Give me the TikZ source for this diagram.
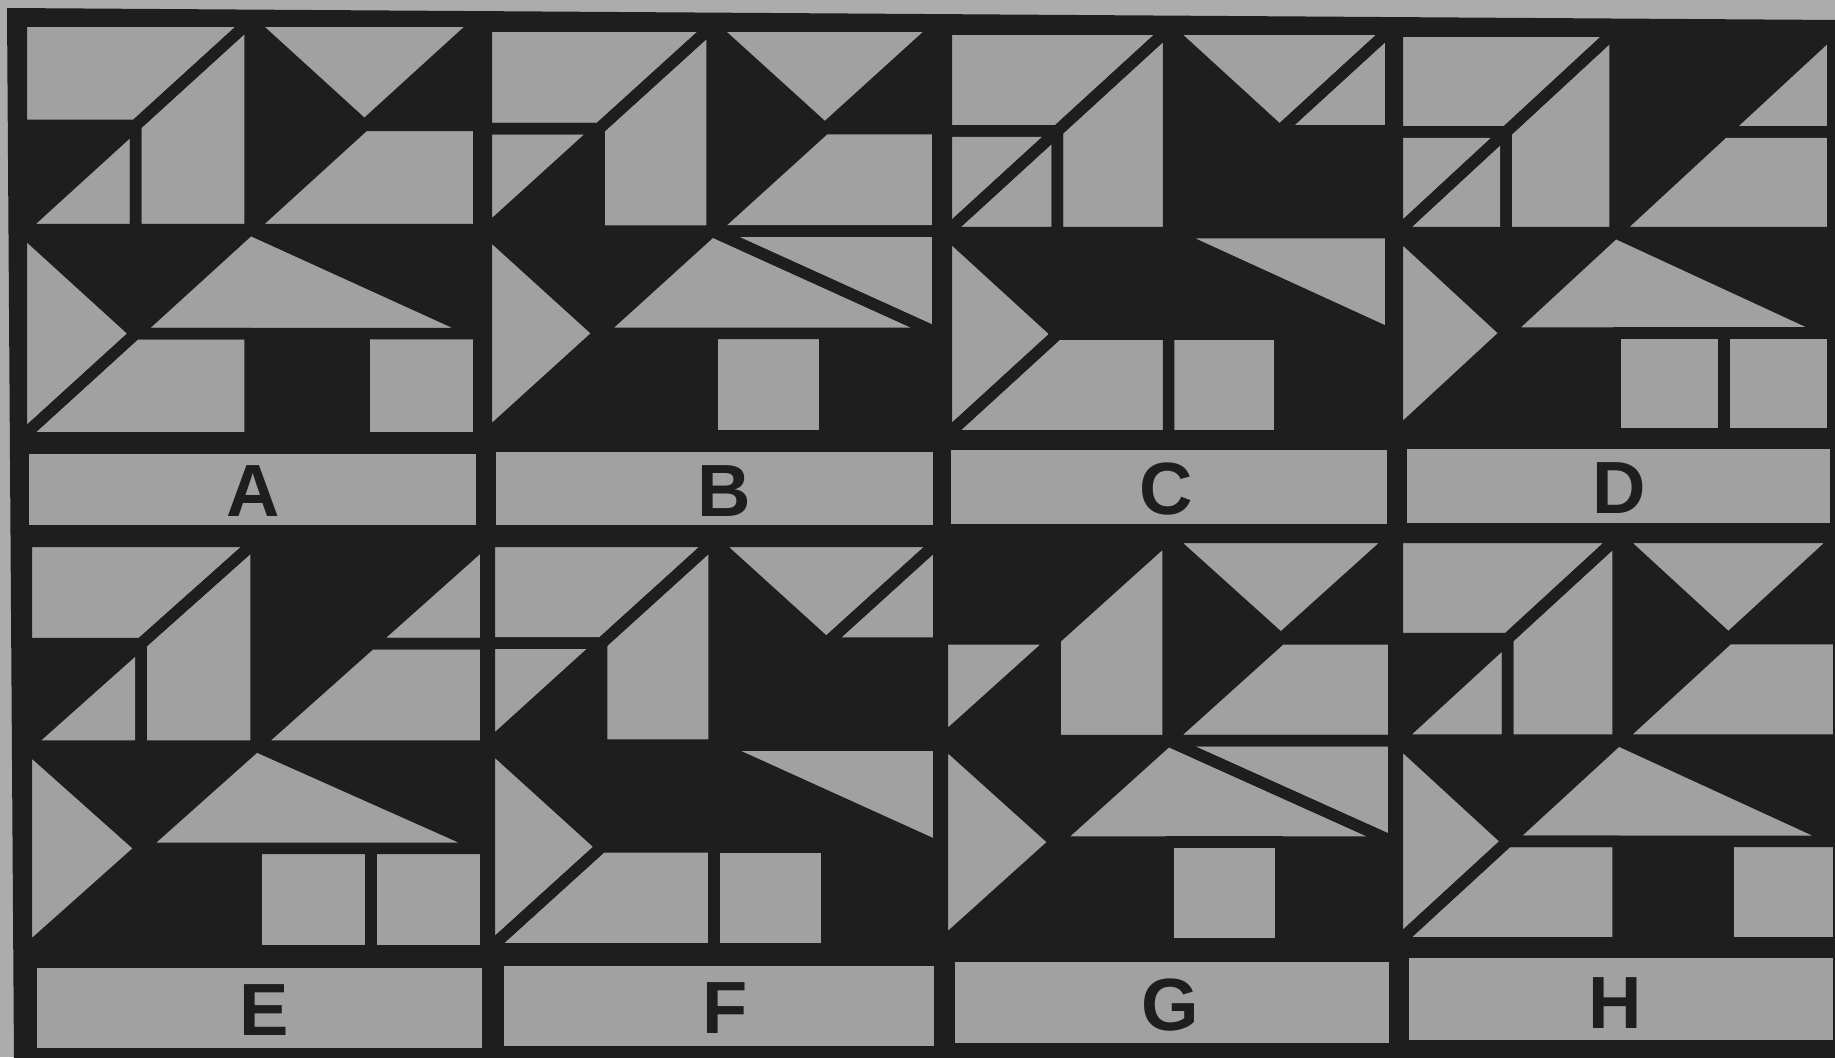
\documentclass[tikz,border=0pt]{standalone}
\usepackage{fontspec}
\setmainfont{Liberation Sans}
\definecolor{pg}{RGB}{161,161,161}
\definecolor{ink}{RGB}{30,30,30}
\definecolor{bgg}{RGB}{172,172,172}
\tikzset{
  gfill/.style={fill=pg},
  gline/.style={draw=ink, line width=11.5pt, line join=round},
  strip/.style={fill=pg},
  lbl/.style={inner sep=0pt, text=ink, font=\fontsize{74}{78}\selectfont\bfseries}
}
% grid of one panel: #1..#4 = inner grey bounds (x0,y0,x1,y1)
\newcommand\mkgrid[4]{%
  \pgfmathsetmacro\Xa{#1-5.75}\pgfmathsetmacro\Xb{#3+5.75}%
  \pgfmathsetmacro\Ya{#2-5.75}\pgfmathsetmacro\Yb{#4+5.75}%
  \foreach \i in {0,...,4}{\foreach \j in {0,...,4}{%
    \coordinate (g\i\j) at ({\Xa+\i*(\Xb-\Xa)/4},{\Ya+\j*(\Yb-\Ya)/4});}}%
}
\newcommand\regshape[2]{%
  \ifcase#2\or
    \path[#1] (g00)--(g20)--(g11)--(g01)--cycle;\or
    \path[#1] (g01)--(g11)--(g02)--cycle;\or
    \path[#1] (g11)--(g12)--(g02)--cycle;\or
    \path[#1] (g11)--(g20)--(g22)--(g12)--cycle;\or
    \path[#1] (g20)--(g31)--(g22)--cycle;\or
    \path[#1] (g20)--(g40)--(g31)--cycle;\or
    \path[#1] (g40)--(g41)--(g31)--cycle;\or
    \path[#1] (g31)--(g41)--(g42)--(g22)--cycle;\or
    \path[#1] (g02)--(g22)--(g13)--cycle;\or
    \path[#1] (g02)--(g13)--(g04)--cycle;\or
    \path[#1] (g13)--(g23)--(g24)--(g04)--cycle;\or
    \path[#1] (g22)--(g13)--(g43)--cycle;\or
    \path[#1] (g22)--(g42)--(g43)--cycle;\or
    \path[#1] (g23)--(g33)--(g34)--(g24)--cycle;\or
    \path[#1] (g33)--(g43)--(g44)--(g34)--cycle;\or
  \fi}
\newcommand\panel[5]{%
  \mkgrid{#1}{#2}{#3}{#4}%
  \foreach \r in {#5}{\regshape{gfill}{\r}}%
  \foreach \r in {#5}{\regshape{gline}{\r}}%
}
\begin{document}
\begin{tikzpicture}[x=1pt,y=-1pt]
\useasboundingbox (0,0) rectangle (1835,1057);
\clip (0,0) rectangle (1835,1057);
\fill[bgg] (0,0) rectangle (1835,1057);
\fill[ink] (7,8) -- (1840,20) -- (1840,1062) -- (14,1062) -- cycle;
% upper row
\panel{27}{27}{473}{432}{1,3,4,6,8,10,11,12,15}
\panel{492}{32}{932}{430}{1,2,4,6,8,10,12,13,14}
\panel{952}{35}{1385}{430}{1,2,3,4,6,7,10,11,13,14}
\panel{1403}{37}{1827}{428}{1,2,3,4,7,8,10,12,14,15}
% lower row
\panel{32}{547}{480}{945}{1,3,4,7,8,10,12,14,15}
\panel{495}{547}{933}{943}{1,2,4,6,7,10,11,13,14}
\panel{948}{543}{1388}{938}{2,4,6,8,10,12,13,14}
\panel{1403}{543}{1833}{937}{1,3,4,6,8,10,11,12,15}
% label strips
\fill[strip] (29,454) rectangle (476,525);
\fill[strip] (496,452) rectangle (933,525);
\fill[strip] (951,450) rectangle (1387,524);
\fill[strip] (1407,449) rectangle (1830,523);
\fill[strip] (37,968) rectangle (482,1048);
\fill[strip] (504,966) rectangle (934,1046);
\fill[strip] (955,962) rectangle (1389,1043);
\fill[strip] (1409,958) rectangle (1833,1040);
% labels
\node[lbl] (lA) at (253,491) {A};
\node[lbl] (lB) at (724,491) {B};
\node[lbl] (lC) at (1166,489) {C};
\node[lbl] (lD) at (1619,488) {D};
\node[lbl] (lE) at (264,1010) {E};
\node[lbl] (lF) at (725,1008) {F};
\node[lbl] (lG) at (1170,1005) {G};
\node[lbl] (lH) at (1615,1003) {H};
\end{tikzpicture}
\end{document}
